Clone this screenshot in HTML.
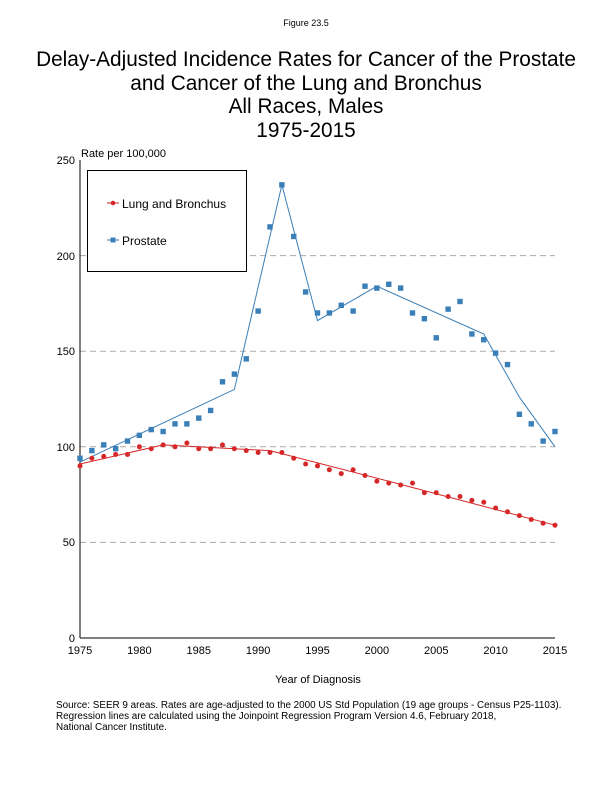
<!DOCTYPE html>
<html><head><meta charset="utf-8"><style>
body{margin:0;background:#fff;width:612px;height:792px;overflow:hidden}
svg{display:block;font-family:"Liberation Sans",Arial,sans-serif}
</style></head><body>
<svg id="s" width="612" height="792" xmlns="http://www.w3.org/2000/svg">
<text x="306" y="26" font-size="9" text-anchor="middle">Figure 23.5</text>
<text x="306" y="66" font-size="20.8" text-anchor="middle">Delay-Adjusted Incidence Rates for Cancer of the Prostate</text>
<text x="306" y="90" font-size="20.8" text-anchor="middle">and Cancer of the Lung and Bronchus</text>
<text x="306" y="113" font-size="20.8" text-anchor="middle">All Races, Males</text>
<text x="306" y="137" font-size="20.8" text-anchor="middle">1975-2015</text>
<text x="81" y="157" font-size="11">Rate per 100,000</text>
<g stroke="#aaa" stroke-dasharray="6,4" stroke-width="1">
<line x1="80" x2="555" y1="255.6" y2="255.6"/><line x1="80" x2="555" y1="351.2" y2="351.2"/>
<line x1="80" x2="555" y1="446.8" y2="446.8"/><line x1="80" x2="555" y1="542.4" y2="542.4"/>
</g>
<line x1="80" y1="160" x2="80" y2="638" stroke="#000"/>
<line x1="80" y1="638" x2="555" y2="638" stroke="#000"/>
<g font-size="11" text-anchor="end">
<text x="75" y="164">250</text><text x="75" y="260">200</text><text x="75" y="355">150</text>
<text x="75" y="451">100</text><text x="75" y="546">50</text><text x="75" y="642">0</text>
</g>
<g font-size="11" text-anchor="middle">
<text x="80" y="654">1975</text><text x="139.4" y="654">1980</text><text x="198.8" y="654">1985</text><text x="258.1" y="654">1990</text><text x="317.5" y="654">1995</text><text x="376.9" y="654">2000</text><text x="436.3" y="654">2005</text><text x="495.6" y="654">2010</text><text x="555" y="654">2015</text>
<text x="318" y="683">Year of Diagnosis</text>
</g>
<g font-size="9.9">
<text x="56" y="708">Source: SEER 9 areas.  Rates are age-adjusted to the 2000 US Std Population (19 age groups - Census P25-1103).</text>
<text x="56" y="719">Regression lines are calculated using the Joinpoint Regression Program Version 4.6, February 2018,</text>
<text x="56" y="730">National Cancer Institute.</text>
</g>
<rect x="87.5" y="170.5" width="159" height="101" fill="#fff" stroke="#000"/>
<line x1="107" x2="119" y1="203" y2="203" stroke="#d62728"/><circle cx="113" cy="203" r="2.3" fill="#d62728"/>
<text x="122" y="208" font-size="12">Lung and Bronchus</text>
<line x1="107" x2="119" y1="240" y2="240" stroke="#3a7fb8"/><rect x="110.5" y="237.5" width="5" height="5" fill="#3a7fb8"/>
<text x="122" y="245" font-size="12">Prostate</text>
<g id="d"></g>
</svg>
<script>
var X=y=>80+(y-1975)*11.875, Y=v=>638-v*1.912;
var P=[94,98,101,99,103,106,109,108,112,112,115,119,134,138,146,171,215,237,210,181,170,170,174,171,184,183,185,183,170,167,157,172,176,159,156,149,143,117,112,103,108];
var L=[90,94,95,96,96,100,99,101,100,102,99,99,101,99,98,97,97,97,94,91,90,88,86,88,85,82,81,80,81,76,76,74,74,72,71,68,66,64,62,60,59];
var PL=[[1975,92],[1988,130],[1992,237],[1995,166],[2000,184],[2009,159],[2012,126],[2015,100]];
var LL=[[1975,91],[1982,101],[1991,98],[2001,82],[2015,59]];
var s='';
function pl(a,c){s+='<polyline fill="none" stroke="'+c+'" stroke-width="1" points="'+a.map(p=>X(p[0])+','+Y(p[1])).join(' ')+'"/>';}
pl(PL,'#3a7fb8');pl(LL,'#d62728');
P.forEach((v,i)=>s+='<rect x="'+(X(1975+i)-2.7)+'" y="'+(Y(v)-2.7)+'" width="5.4" height="5.4" fill="#3a7fb8"/>');
L.forEach((v,i)=>s+='<circle cx="'+X(1975+i)+'" cy="'+Y(v)+'" r="2.5" fill="#d62728"/>');
document.getElementById('d').innerHTML=s;
</script>
</body></html>
